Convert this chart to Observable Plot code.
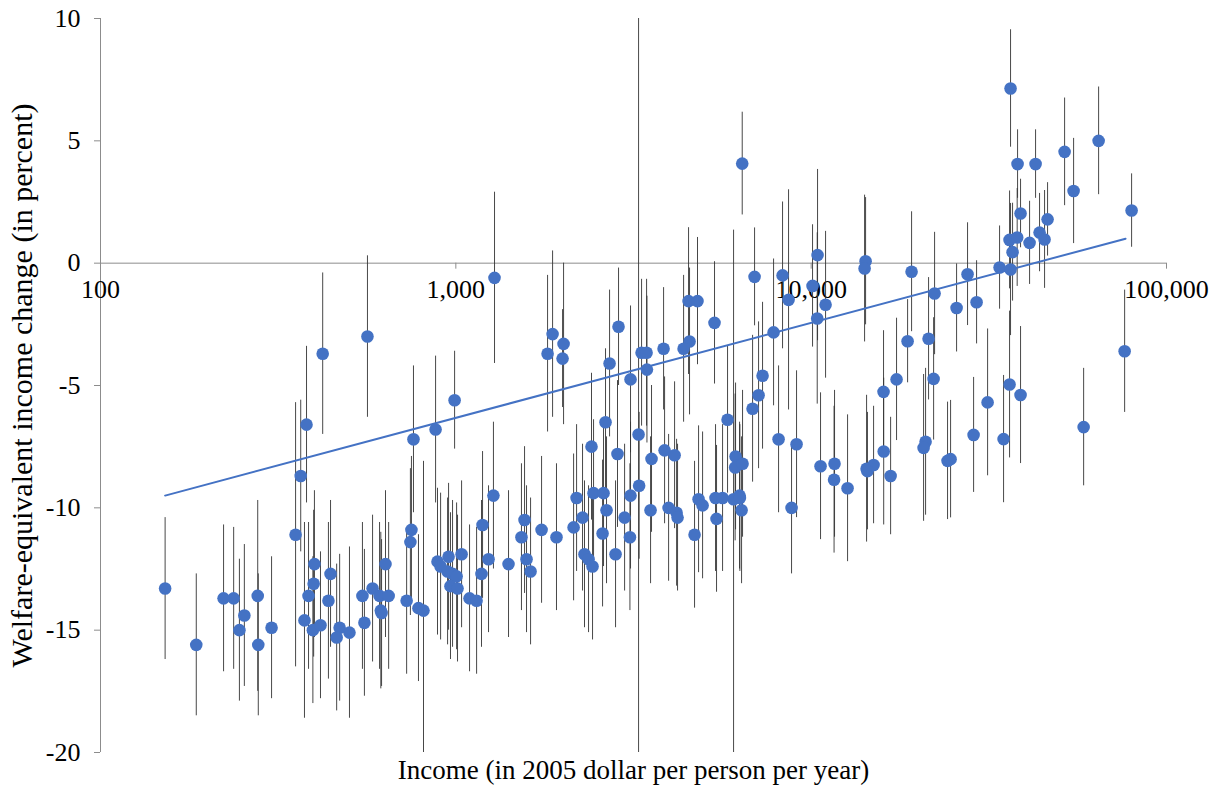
<!DOCTYPE html>
<html><head><meta charset="utf-8">
<script src="https://cdn.jsdelivr.net/npm/d3@7"></script>
<script src="https://cdn.jsdelivr.net/npm/@observablehq/plot@0.6"></script>
<style>body{margin:0;background:#fff}</style>
</head><body><div id="chart"></div>
<script>
// income (2005 $ per person per year), welfare-equivalent change (%), error half-range (%)
const income = [152,186,222,237,246,254,277,278,303,354,366,380,375,385,398,400,396,416,444,438,471,462,502,546,553,583,610,615,618,634,647,422,564,760,877,992,1285,1872,1812,2010,1997,2708,2870,2638,2409,2851,3102,750,745,727,785,811,888,906,954,948,979,1005,966,1011,1038,1093,1144,1189,1181,1236,1276,1407,1561,1530,1581,1623,1743,1920,2145,2187,2273,2302,2363,2425,2441,2604,2655,2588,2815,2985,3102,3090,3268,3280,3554,3532,3868,4127,3970,4181,4207,4697,4821,4948,5416,5381,5632,5817,6127,6110,6411,6048,6288,6300,6370,6841,7112,8096,9097,8807,10626,11635,11600,12660,14321,6397,6930,8308,10423,10090,8637,10978,10400,14228,14137,7838,5346,4518,4788,4547,4375,3843,3332,3442,3450,7298,15984,17391,16000,16733,14985,14400,36402,38094,42810,51670,64410,54770,79760,38840,46270,43930,45380,41180,36170,38000,36880,33900,36400,19170,27550,22250,29210,25660,18680,21400,22110,31370,36170,38840,76240,58450,28650,34790,20990,20720,24200,24680];
const change = [-13.3,-15.6,-13.7,-13.7,-15.0,-14.4,-13.6,-15.6,-14.9,-11.1,-8.7,-6.6,-14.6,-13.6,-13.1,-12.3,-15.0,-14.8,-12.7,-13.8,-14.9,-15.3,-15.1,-13.6,-14.7,-13.3,-13.6,-14.2,-14.3,-12.3,-13.6,-3.7,-3.0,-7.2,-6.8,-5.6,-0.6,-2.9,-3.7,-3.3,-3.9,-4.1,-2.6,-6.5,-7.5,-7.8,-4.75,-10.9,-11.4,-13.8,-14.1,-14.2,-12.2,-12.4,-12.0,-12.6,-12.7,-12.8,-13.2,-13.3,-11.9,-13.7,-13.8,-10.7,-12.7,-12.1,-9.5,-12.3,-10.5,-11.2,-12.1,-12.6,-10.9,-11.2,-10.8,-9.6,-10.4,-11.9,-12.1,-12.4,-9.4,-9.4,-10.1,-11.05,-11.9,-10.4,-9.5,-11.2,-7.0,-9.1,-8.0,-10.1,-7.65,-7.85,-10.0,-10.2,-10.4,-11.1,-9.65,-9.9,-10.45,-9.6,-9.6,-6.4,-7.9,-8.35,-8.2,-9.65,-9.5,-9.6,-10.1,-5.95,-5.4,-7.2,-7.4,-10.0,-8.3,-8.2,-8.85,-9.2,-8.4,4.07,-0.56,-0.5,0.33,-0.93,-1.5,-1.7,-2.26,0.08,-0.22,-2.83,-2.44,-1.55,-1.55,-3.2,-3.5,-3.5,-3.66,-3.66,-4.35,-4.6,-5.26,-4.75,-7.7,-8.7,-8.25,-8.5,7.14,4.05,4.05,4.55,5.0,2.95,2.15,2.03,1.79,1.25,0.97,0.83,0.95,1.05,0.45,-0.18,-0.26,-0.35,-0.45,-1.24,-1.6,-1.83,-3.19,-3.09,-4.73,-5.69,-4.96,-5.39,-3.6,-6.7,-7.02,-7.19,-7.3,-7.55,-8.08,-8.01];
const errHalf = [2.9,2.9,3.0,2.9,2.9,2.9,3.9,2.9,2.9,5.4,3.1,3.2,4.0,3.0,3.0,3.0,3.0,3.0,3.0,3.2,3.0,3.0,3.5,3.0,3.0,3.0,3.0,3.2,3.0,3.0,3.0,3.3,3.3,3.0,3.0,2.0,3.5,3.4,3.2,3.3,2.0,3.0,2.4,3.0,3.0,3.0,3.0,3.0,3.0,3.0,3.0,6.1,3.0,3.0,3.0,3.0,3.0,3.0,3.0,3.0,3.0,3.0,3.0,3.0,3.0,3.0,3.0,3.0,3.0,3.0,3.0,3.0,3.0,3.0,3.0,3.0,3.0,3.0,3.0,3.0,3.0,3.0,3.0,3.0,3.0,3.0,3.0,3.0,17,3.0,3.0,3.0,3.0,3.0,3.0,3.0,3.0,3.0,3.0,3.0,3.0,3.0,3.0,3.0,3.0,3.0,3.0,11,3.0,3.0,3.0,3.0,3.0,3.0,3.0,2.7,3.0,3.0,3.0,3.0,3.0,2.1,2.0,3.0,3.5,2.5,4.5,3.0,3.5,2.6,3.0,3.0,2.5,3.0,2.6,3.0,3.0,2.5,3.0,3.0,3.0,3.0,2.5,2.5,3.0,2.4,2.4,2.4,2.4,1.4,1.4,2.2,2.2,2.15,1.5,1.4,1.5,1.6,2.0,1.7,2.0,2.0,2.0,1.7,2.7,2.45,2.1,2.5,1.7,1.8,1.7,2.5,2.5,3.0,3.0,2.8,2.5,2.4,2.35,2.6,3.0,3.0,2.4,2.4];
const trendIncome = [152, 76700];
const trendChange = [-9.5, 1.0];
const xTicks = [100, 1000, 10000, 100000];
const xTickLabels = ["100", "1,000", "10,000", "100,000"];
const yTicks = [-20, -15, -10, -5, 0, 5, 10];
const xTitle = "Income (in 2005 dollar per person per year)";
const yTitle = "Welfare-equivalent income change (in percent)";

const points = income.map((x, i) => ({x, y: change[i], lo: change[i] - errHalf[i], hi: change[i] + errHalf[i]}));
const trend = trendIncome.map((x, i) => ({x, y: trendChange[i]}));
const axisGray = "#8c8c8c";
const blue = "#4472C4";

const chart = Plot.plot({
  width: 1221, height: 791,
  marginLeft: 100, marginRight: 55, marginTop: 18, marginBottom: 39,
  x: {type: "log", domain: [100, 100000], axis: null},
  y: {domain: [-20, 10], axis: null},
  style: {fontFamily: "'Liberation Serif', 'Times New Roman', serif", background: "white", color: "black", overflow: "visible"},
  marks: [
    Plot.ruleX([xTicks[0]], {stroke: axisGray, strokeWidth: 1}),
    Plot.axisY(yTicks, {tickSize: 6, tickPadding: 14, stroke: axisGray, fill: "black", fontSize: 26, tickFormat: d => String(d), label: null}),
    Plot.ruleY([0], {stroke: axisGray, strokeWidth: 1}),
    Plot.ruleX(xTicks, {x: d => d, y1: 0, y2: 0, insetBottom: -6, stroke: axisGray}),
    Plot.text(xTicks, {x: d => d, y: 0, text: (d, i) => xTickLabels[i], dy: 27, fontSize: 26, fill: "black"}),
    Plot.text([xTitle], {frameAnchor: "bottom", dy: 26, text: d => d, fontSize: 27, fill: "black"}),
    Plot.text([yTitle], {frameAnchor: "left", textAnchor: "middle", dx: -78, rotate: -90, text: d => d, fontSize: 30, fill: "black"}),
    Plot.ruleX(points, {x: "x", y1: "lo", y2: "hi", stroke: "#333", strokeWidth: 0.9, clip: true}),
    Plot.line(trend, {x: "x", y: "y", stroke: blue, strokeWidth: 2}),
    Plot.dot(points, {x: "x", y: "y", r: 6.3, fill: blue, stroke: "none"})
  ]
});
document.getElementById("chart").appendChild(chart);
</script>
</body></html>
